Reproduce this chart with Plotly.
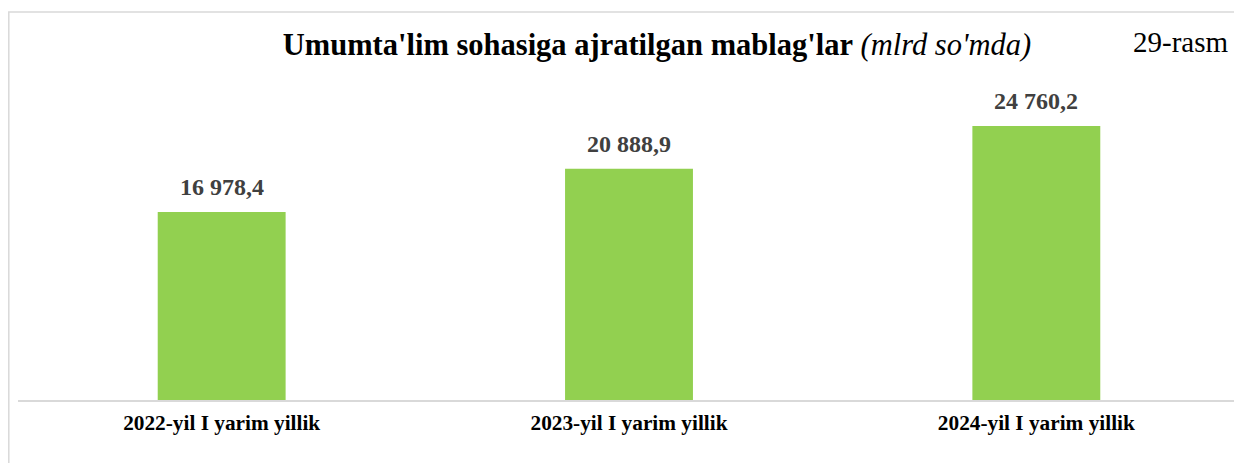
import plotly.graph_objects as go

categories = ["2022-yil I yarim yillik", "2023-yil I yarim yillik", "2024-yil I yarim yillik"]
values = [16978.4, 20888.9, 24760.2]
title_main = "Umumta'lim sohasiga ajratilgan mablag'lar"
title_unit = "(mlrd so'mda)"
fig_label = "29-rasm"


def fmt(v):
    s = f"{v:,.1f}"
    return s.replace(",", " ").replace(".", ",")


FONT = "Liberation Serif, Times New Roman, serif"
# page has an 8px body margin, so the figure is drawn 8px in from the top-left
OFF = 8
W, H = 1242 - OFF, 463 - OFF
L, R, T, B = 18 - OFF, 2, 100 - OFF, 63
PW = W - L - R
PH = H - T - B

fig = go.Figure()
fig.add_trace(go.Bar(
    x=categories, y=values,
    marker=dict(color="#92D050", line=dict(width=0)),
    width=0.314,
    hoverinfo="skip",
))

for c, v in zip(categories, values):
    fig.add_annotation(
        x=c, y=v, xref="x", yref="y",
        text=f"<b>{fmt(v)}</b>", showarrow=False,
        yanchor="middle", yshift=25,
        font=dict(family=FONT, size=24, color="#404040"),
    )

fig.add_annotation(
    x=(1180 - 18) / PW, y=(400 - 42) / PH, xref="paper", yref="paper",
    text=fig_label, showarrow=False, xanchor="center", yanchor="middle",
    font=dict(family=FONT, size=29, color="#000000"),
)

fig.add_shape(
    type="rect", xref="paper", yref="paper",
    x0=-9.2 / PW, x1=1.05, y0=-0.4, y1=(400 - 12) / PH,
    line=dict(color="#d9d9d9", width=1.5), fillcolor="rgba(0,0,0,0)", layer="below",
)

fig.update_layout(
    width=W, height=H,
    margin=dict(l=L, r=R, t=T, b=B, pad=0),
    paper_bgcolor="white", plot_bgcolor="white",
    showlegend=False,
    title=dict(
        text=f"<b>{title_main}</b> <i>{title_unit}</i>",
        x=(657 - OFF) / W, xanchor="center", xref="container",
        y=1 - (44 - OFF) / H, yanchor="middle", yref="container",
        font=dict(family=FONT, size=30.5, color="#000000"),
    ),
    xaxis=dict(
        showline=True, linecolor="#d9d9d9", linewidth=1.5,
        showgrid=False, zeroline=False,
        ticks="outside", ticklen=3, tickcolor="rgba(0,0,0,0)",
        tickfont=dict(family=FONT, size=21.3, color="#000000"),
        tickvals=categories,
        ticktext=[f"<b>{c}</b>" for c in categories],
    ),
    yaxis=dict(
        range=[0, PH / 0.011068], visible=False, showgrid=False, zeroline=False,
    ),
    bargap=0.686,
)

fig.write_html("out.html")
